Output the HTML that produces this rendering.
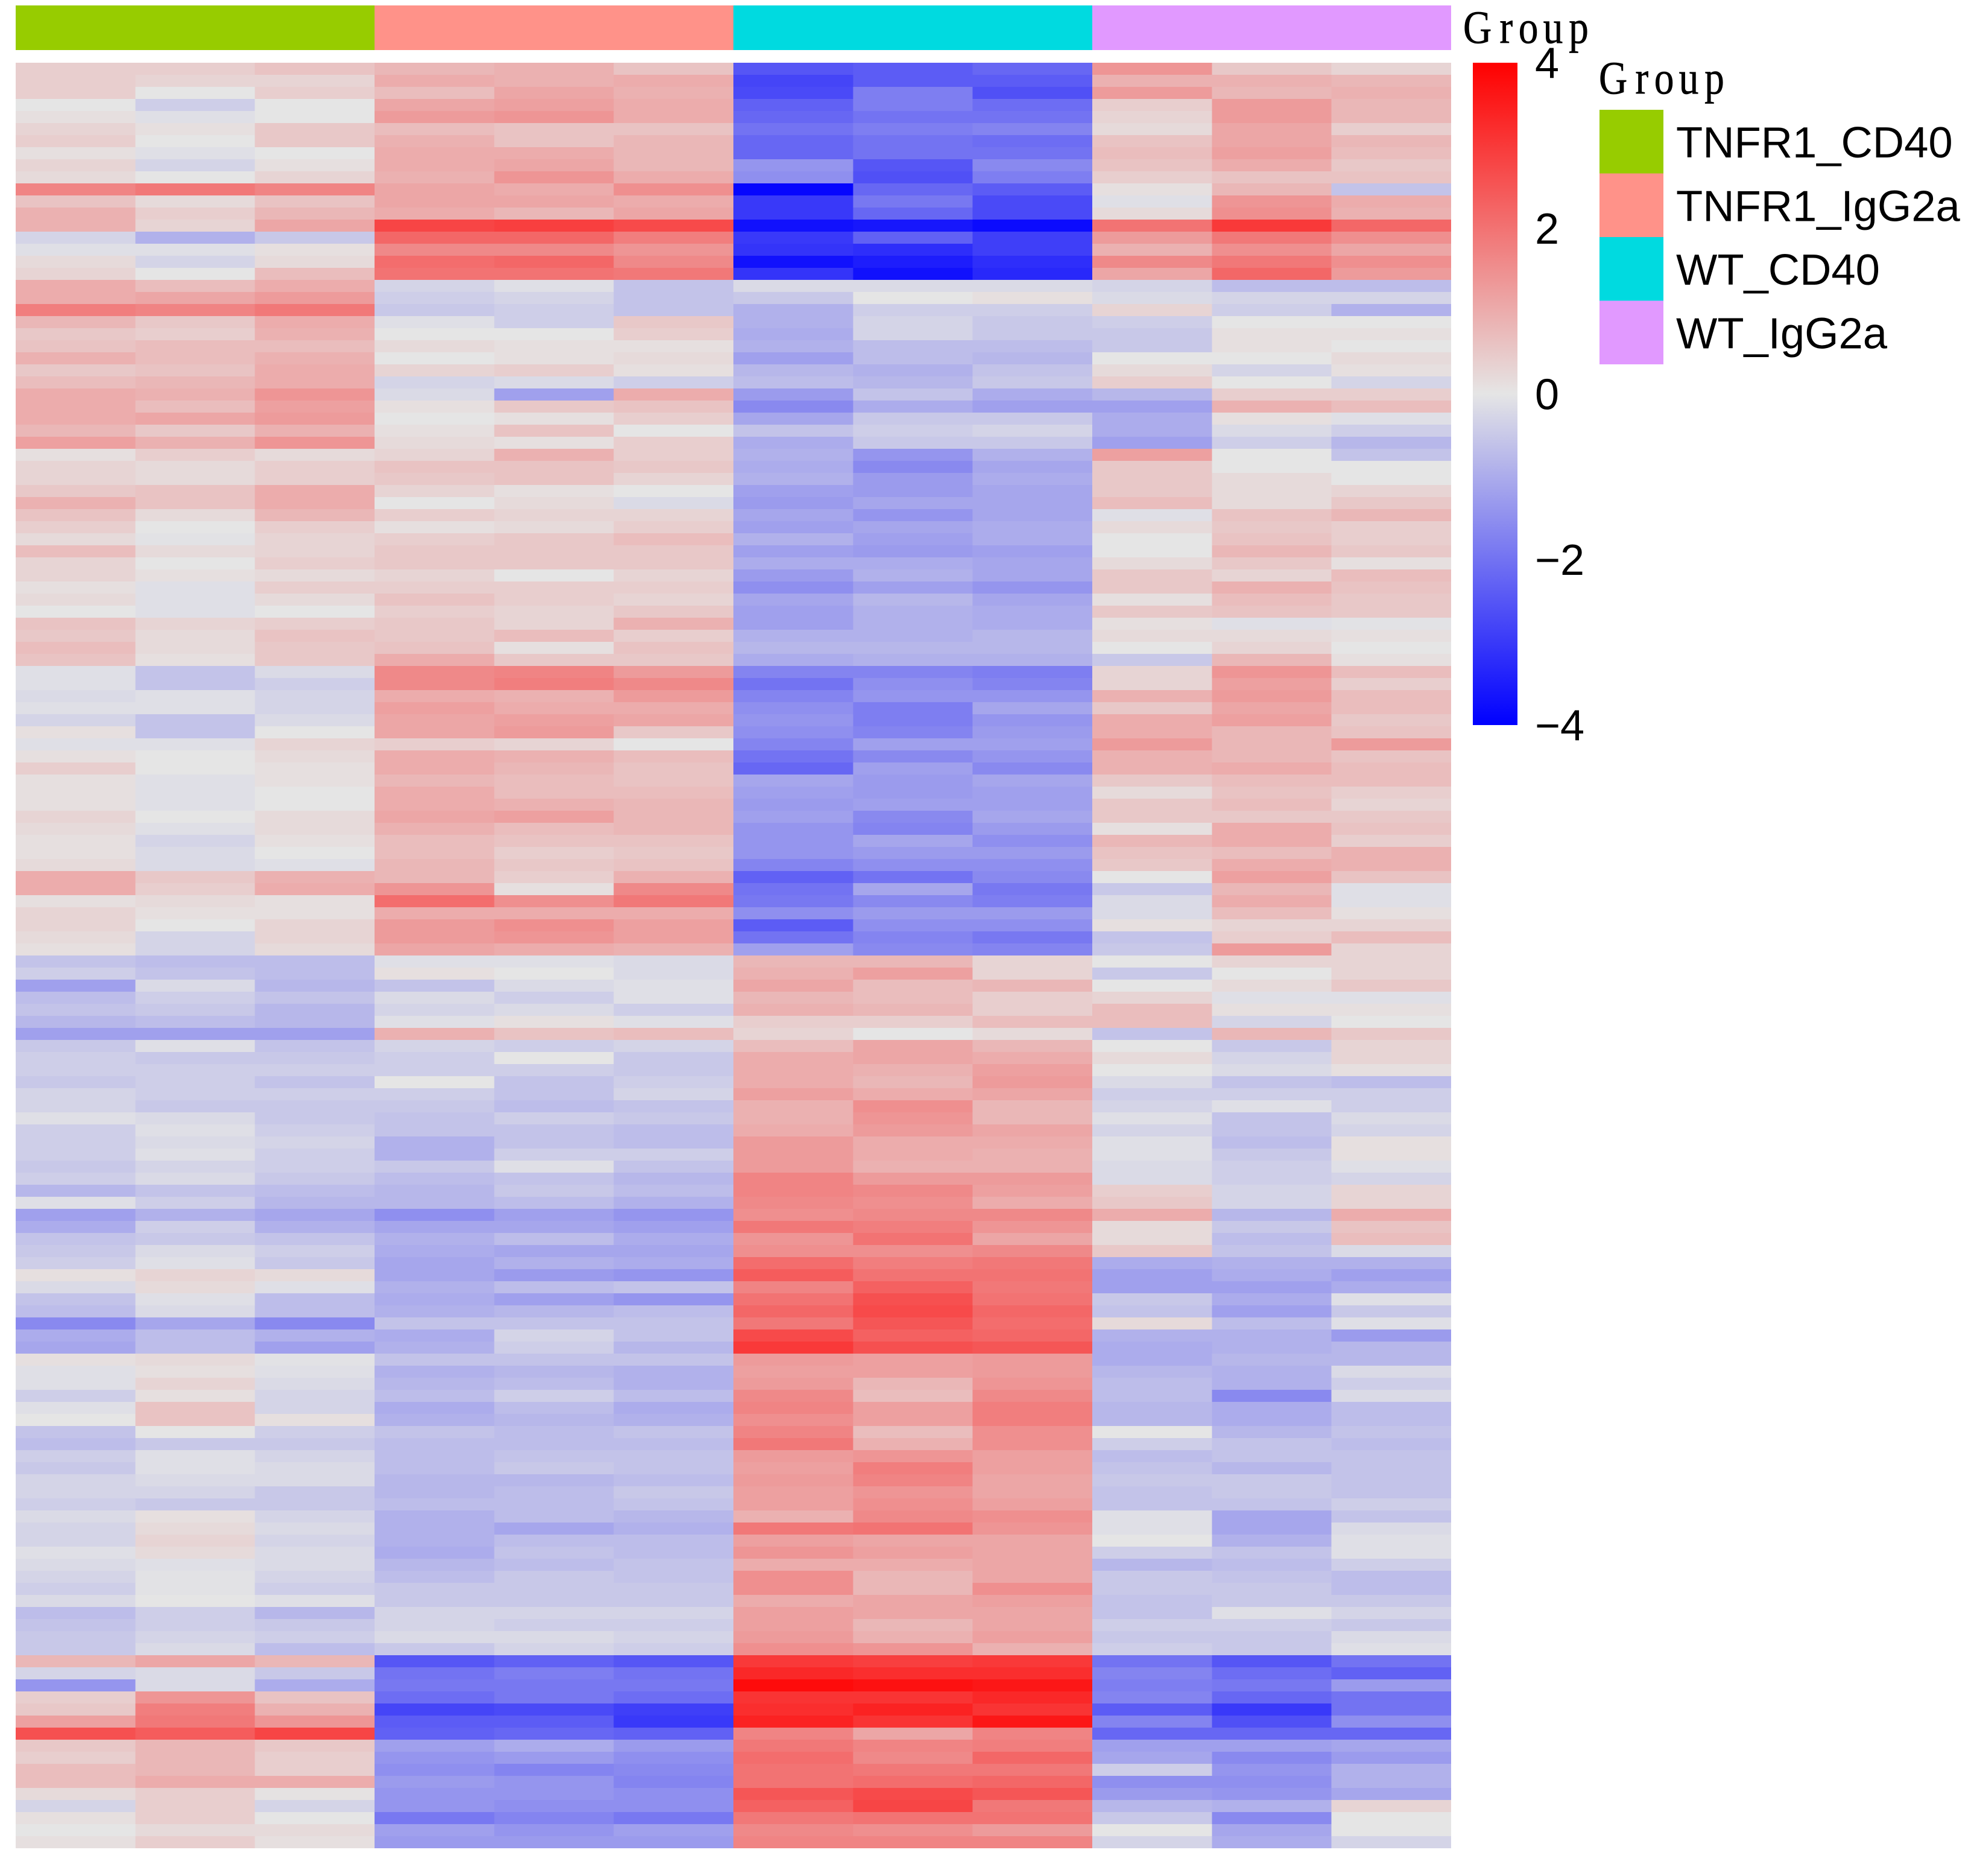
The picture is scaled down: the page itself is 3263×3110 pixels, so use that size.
<!DOCTYPE html>
<html lang="en">
<head>
<meta charset="utf-8">
<title>Group heatmap</title>
<style>
html,body{margin:0;padding:0;background:#fff;}
svg{display:block;}
text{font-family:"Liberation Sans",Arial,sans-serif;fill:#000;}
.serif{font-family:"Liberation Serif","Noto Serif CJK SC",serif;stroke:#000;stroke-width:.7;}
</style>
</head>
<body>
<svg id="chart" xmlns="http://www.w3.org/2000/svg" width="3263" height="3110" viewBox="0 0 3263 3110">
<defs>
<linearGradient id="cbGrad" x1="0" y1="0" x2="0" y2="1">
<stop offset="0" stop-color="#ff0000"/><stop offset="0.5" stop-color="#e5e5e5"/><stop offset="1" stop-color="#0000ff"/>
</linearGradient>
</defs>
<rect x="0" y="0" width="3263" height="3110" fill="#fff"/>
<g id="annotationBar"></g>
<g id="cells" shape-rendering="crispEdges"></g>
<text class="serif" transform="translate(2426,71) scale(.85,1)" font-size="77" x="0 71 108 156 206" y="0">Group</text>
<rect x="2442" y="104" width="74" height="1098" fill="url(#cbGrad)"/>
<g id="cbTicks"></g>
<text class="serif" transform="translate(2651,155) scale(.85,1)" font-size="77" x="0 71 108 156 206" y="0">Group</text>
<g id="legend"></g>
</svg>
<script>
const groupNames = ["TNFR1_CD40","TNFR1_IgG2a","WT_CD40","WT_IgG2a"];
const groupColors = ["#97CC00","#FF9289","#00DAE0","#E199FF"];
const colorbarTicks = [4,2,0,-2,-4];
const heatValues = [
[.4,.4,.6,.8,.9,.6,-2.5,-2.4,-2.2,1.4,.5,.3],
[.4,.3,.3,1.0,.9,1.0,-2.8,-2.4,-2.4,.9,.9,.8],
[.4,.0,.4,.7,1.1,.9,-2.7,-1.8,-2.6,1.3,.8,.9],
[.0,-.4,.0,1.1,1.2,1.0,-2.3,-1.8,-2.1,.4,1.3,.8],
[.1,-.1,.0,1.3,1.4,1.0,-2.2,-2.0,-2.0,.3,1.3,.8],
[.3,.1,.5,.7,.6,.6,-2.0,-1.8,-1.7,.2,1.1,.4],
[.4,.0,.5,.9,.6,.8,-2.2,-2.0,-2.1,.6,1.1,.8],
[.1,-.1,.0,1.0,1.0,.8,-2.2,-2.0,-2.0,.7,1.2,.7],
[.3,-.3,.1,1.0,1.1,.8,-1.4,-2.5,-1.6,.6,1.0,.5],
[.2,.0,.3,.9,1.4,1.0,-1.5,-2.6,-1.8,.4,.6,.6],
[1.7,1.9,1.7,1.1,1.0,1.5,-3.9,-2.2,-2.4,.1,.8,-.6],
[.6,.2,.6,1.1,1.1,1.0,-3.0,-1.9,-2.7,-.1,1.4,1.0],
[.9,.4,.8,1.0,.8,1.1,-3.0,-2.2,-2.7,.2,1.5,.9],
[.9,.3,1.1,2.8,2.9,2.7,-3.7,-3.6,-3.8,2.0,3.0,2.2],
[-.3,-.9,-.5,2.2,2.2,1.8,-3.0,-2.3,-2.9,1.3,1.9,1.5],
[-.1,-.1,.1,1.6,1.6,1.4,-3.1,-3.2,-2.9,.9,1.5,1.1],
[.2,-.3,.2,2.1,2.2,1.6,-3.7,-3.5,-3.2,1.6,1.9,1.5],
[.3,.0,.7,2.0,2.0,1.9,-3.1,-3.7,-3.3,1.1,2.2,1.3],
[1.0,.7,1.0,-.3,-.1,-.6,-.2,-.2,-.2,-.3,-.7,-.7],
[1.0,1.1,1.3,-.4,-.3,-.6,-.5,.0,.1,-.2,-.3,-.3],
[1.8,1.7,1.9,-.5,-.4,-.6,-.9,-.4,-.4,.3,-.4,-.9],
[.8,.5,1.0,-.1,-.4,.5,-.9,-.3,-.5,-.4,.0,.0],
[.5,.4,.9,.0,.0,.4,-1.0,-.3,-.5,-.5,.1,.1],
[.6,.7,.7,.2,.1,.1,-.9,-.7,-.7,-.5,.1,.0],
[.9,.7,.9,.0,.1,.2,-1.2,-.7,-.8,.0,.0,.2],
[.5,.6,1.0,.3,.4,.1,-.8,-.9,-.6,.2,-.3,.1],
[.7,.8,1.0,-.3,-.2,-.4,-.7,-.8,-.5,.4,.0,-.3],
[1.0,.9,1.4,-.2,-1.2,1.0,-1.3,-.6,-1.0,-.8,.4,.4],
[1.0,.7,1.2,.1,.5,.6,-1.6,-1.0,-1.2,-1.2,.9,.7],
[1.0,1.1,1.3,.0,.1,.4,-1.1,-.5,-.5,-1.0,.1,-.1],
[.8,.5,.9,.1,.6,.0,-.6,-.4,-.3,-1.0,-.2,-.4],
[1.2,.9,1.4,.2,.1,.4,-1.0,-.5,-.5,-1.2,-.4,-.8],
[.1,.4,.2,.3,.9,.4,-.9,-1.4,-.9,1.2,.0,-.6],
[.3,.2,.4,.6,.6,.5,-1.0,-1.6,-1.1,.5,.0,.0],
[.3,.2,.4,.5,.6,.3,-.9,-1.3,-1.0,.5,.2,.0],
[.5,.6,1.0,.3,.1,.0,-1.2,-1.3,-1.1,.5,.2,.3],
[.9,.6,1.0,.0,.2,-.2,-1.3,-1.1,-1.1,.7,.2,.5],
[.6,.2,.8,.4,.3,.3,-1.1,-1.4,-1.1,-.1,.6,.8],
[.4,.0,.4,.1,.2,.4,-1.2,-1.1,-1.0,.2,.5,.4],
[.2,-.05,.3,.4,.5,.7,-.9,-1.2,-1.0,.0,.6,.4],
[.7,.2,.3,.5,.5,.5,-1.2,-1.3,-1.2,.0,.8,.5],
[.3,.0,.4,.5,.5,.5,-1.0,-1.0,-1.1,.2,.5,.1],
[.3,.1,.2,.3,.0,.3,-1.3,-.9,-1.1,.5,.3,.7],
[.1,-.1,.4,.4,.4,.4,-1.5,-1.2,-1.4,.5,.9,.6],
[.2,-.1,.2,.6,.4,.3,-1.1,-.8,-1.1,.1,.7,.5],
[.0,-.1,.0,.4,.3,.5,-1.2,-.9,-1.0,.5,.6,.5],
[.6,.3,.4,.5,.3,.9,-1.2,-.9,-1.0,.1,-.1,-.05],
[.5,.2,.6,.5,.7,.4,-.9,-.9,-.8,.2,.2,.1],
[.7,.2,.5,.6,.1,.6,-.8,-.8,-.8,.0,.3,.0],
[.6,.1,.5,1.0,.5,.5,-1.0,-.9,-.9,-.5,.8,.1],
[-.1,-.6,-.2,1.6,1.7,1.3,-1.7,-1.7,-1.8,.3,1.4,.7],
[-.1,-.6,-.4,1.6,1.8,1.6,-2.0,-1.5,-1.7,.3,1.2,.4],
[-.2,-.1,-.3,1.0,.9,1.3,-1.7,-1.4,-1.4,.9,1.3,.7],
[-.1,-.1,-.3,1.2,1.0,1.0,-1.5,-1.8,-1.1,.5,1.1,.7],
[-.3,-.6,-.2,1.1,1.2,1.1,-1.4,-1.8,-1.4,1.0,1.2,.5],
[.1,-.6,.0,1.1,1.3,.5,-1.5,-1.7,-1.3,1.0,.8,.6],
[-.1,-.1,.3,.4,.3,.0,-1.7,-1.2,-1.2,1.3,.8,1.3],
[.1,.0,.2,1.0,.9,.7,-2.0,-1.6,-1.4,.9,.8,.6],
[.4,.0,.1,1.0,.8,.6,-2.2,-1.2,-1.6,.9,1.0,.7],
[.1,-.1,.1,.8,.7,.6,-1.1,-1.3,-1.1,.5,.7,.7],
[.1,-.1,.0,1.0,.7,.7,-1.2,-1.3,-1.2,.2,.6,.4],
[.1,-.1,.0,1.0,.9,.8,-1.3,-1.2,-1.2,.5,.7,.3],
[.3,.0,.2,1.1,1.2,.8,-1.2,-1.6,-1.1,.5,.5,.5],
[.2,-.1,.2,.9,.7,.8,-1.4,-1.7,-1.3,.1,1.0,.6],
[.1,-.3,.1,.7,.6,.6,-1.4,-1.1,-1.5,.8,1.0,.4],
[.1,-.2,.0,.7,.4,.5,-1.4,-1.3,-1.3,.6,.7,.9],
[.2,-.2,-.1,.8,.5,.6,-1.7,-1.5,-1.5,.5,1.0,.9],
[1.0,.5,.9,.8,.4,.9,-2.3,-2.0,-1.6,.0,1.2,.6],
[1.0,.4,1.0,1.4,.1,1.6,-2.0,-1.1,-1.9,-.5,.8,-.1],
[.1,.2,.1,2.1,1.5,1.9,-1.9,-1.6,-1.8,-.2,1.0,-.1],
[.3,.1,.1,1.0,1.0,1.0,-1.5,-1.3,-1.3,-.2,.7,.1],
[.3,.0,.3,1.3,1.5,1.2,-2.4,-1.5,-1.5,.1,.3,.3],
[.2,-.3,.3,1.3,1.4,1.2,-2.0,-1.7,-1.9,-.6,.4,.7],
[.1,-.3,.2,1.1,1.0,.9,-1.2,-1.6,-1.7,-.5,1.3,.3],
[-.6,-.7,-.7,-.1,-.1,-.2,.8,.8,.3,.0,.3,.3],
[-.4,-.6,-.7,.1,.0,-.2,.9,1.2,.3,-.5,.0,.3],
[-1.2,-.2,-.8,-.6,-.2,-.1,1.1,.7,.8,.0,.2,.5],
[-.7,-.4,-.6,-.2,-.4,-.1,.8,.7,.4,.3,-.1,-.1],
[-.6,-.5,-.8,-.3,-.2,-.4,.9,.8,.4,.7,.1,.1],
[-.8,-.7,-.8,-.1,.1,-.1,.4,.4,.7,.7,-.3,.0],
[-1.2,-1.2,-1.2,.9,.6,.7,.3,.0,.2,-.6,.8,.5],
[-.5,-.1,-.6,-.3,-.4,-.3,.7,1.1,.8,.0,-.5,.3],
[-.4,-.5,-.5,-.4,.0,-.5,1.0,1.1,1.0,.2,-.3,.3],
[-.4,-.4,-.4,-.4,-.4,-.5,1.0,.9,1.2,.0,-.2,.1],
[-.5,-.4,-.6,.0,-.6,-.4,1.0,.8,1.3,-.2,-.6,-.7],
[-.3,-.4,-.4,-.4,-.6,-.3,1.2,1.0,1.1,-.4,-.4,-.4],
[-.3,-.5,-.5,-.5,-.7,-.6,.9,1.5,.8,-.3,-.1,-.4],
[-.1,-.2,-.5,-.6,-.4,-.5,.9,1.4,.8,-.1,-.6,-.2],
[-.4,-.1,-.4,-.6,-.6,-.7,1.0,1.3,1.1,-.3,-.6,-.3],
[-.4,-.2,-.3,-.9,-.6,-.7,1.3,1.0,1.0,-.1,-.7,.1],
[-.4,-.1,-.4,-.9,-.4,-.4,1.3,1.0,.9,-.1,-.5,.1],
[-.5,-.3,-.4,-.5,-.1,-.6,1.3,.9,.9,-.2,-.4,-.1],
[-.4,-.2,-.5,-.7,-.6,-.8,1.7,1.3,1.3,-.2,-.4,-.3],
[-.8,-.6,-.7,-.8,-.5,-.7,1.7,1.6,1.2,.4,-.3,.3],
[-.1,-.4,-.8,-.8,-.7,-.9,1.6,1.5,1.0,.5,-.3,.3],
[-1.2,-.9,-1.1,-1.5,-1.2,-1.4,1.5,1.6,1.6,1.0,-.8,1.0],
[-1.0,-.4,-.9,-1.1,-1.1,-1.2,1.9,1.8,1.4,.2,-.5,.6],
[-.6,-.5,-.6,-.9,-.7,-1.0,1.4,2.0,1.1,.2,-.7,.7],
[-.5,-.2,-.4,-1.0,-1.1,-1.1,1.5,1.5,1.6,.5,-.6,-.2],
[-.4,-.1,-.5,-1.1,-.9,-1.0,2.1,1.8,1.9,-1.0,-.9,-.9],
[.1,.3,.2,-1.1,-1.3,-1.4,2.4,2.0,2.0,-1.2,-1.0,-1.2],
[-.2,.2,-.1,-.9,-.7,-.6,1.7,2.3,1.9,-1.2,-1.2,-1.0],
[-.6,-.1,-.7,-1.0,-1.2,-1.4,2.0,2.6,2.0,-.5,-1.0,-.1],
[-.7,-.2,-.7,-.9,-.8,-.7,2.2,2.7,2.2,-.6,-1.2,-.5],
[-1.6,-1.1,-1.6,-.6,-.6,-.6,1.9,2.5,2.1,.2,-.7,-.1],
[-1.0,-.7,-.9,-1.0,-.3,-.6,2.7,2.3,2.2,-.9,-.9,-1.3],
[-1.1,-.7,-1.2,-.9,-.4,-.8,3.0,2.6,2.5,-1.0,-.9,-.8],
[.1,.2,-.05,-.6,-.6,-.6,1.3,1.2,1.3,-1.0,-.8,-.8],
[-.1,.1,-.1,-.9,-.8,-.9,1.2,1.2,1.3,-.8,-.9,-.2],
[-.1,.3,-.2,-.8,-.7,-.9,1.3,.8,1.4,-.7,-.9,-.4],
[-.4,.1,-.3,-.7,-.4,-.7,1.6,.7,1.6,-.7,-1.6,-.2],
[-.1,.6,-.3,-1.0,-.7,-1.0,1.7,1.2,1.8,-.8,-1.0,-.7],
[.0,.6,.1,-.9,-.8,-.9,1.5,1.2,1.8,-.8,-1.0,-.7],
[-.6,.0,-.4,-.6,-.7,-.6,1.7,.7,1.5,.0,-.8,-.6],
[-.7,-.5,-.5,-.7,-.7,-.7,1.9,.9,1.5,-.4,-.6,-.7],
[-.4,-.1,-.3,-.7,-.6,-.6,1.3,1.4,1.2,-.7,-.6,-.6],
[-.5,-.1,-.2,-.7,-.5,-.6,1.2,1.8,1.2,-.6,-.8,-.6],
[-.3,-.2,-.2,-.8,-.8,-.7,1.3,1.7,1.1,-.5,-.5,-.6],
[-.3,-.3,-.5,-.8,-.7,-.5,1.2,1.4,1.1,-.6,-.5,-.6],
[-.4,-.5,-.5,-.7,-.7,-.6,1.2,1.5,1.2,-.6,-.6,-.4],
[-.2,.1,-.3,-.9,-.7,-.8,.9,1.6,1.5,-.1,-1.1,-.6],
[-.3,.2,-.2,-.9,-1.1,-.9,1.9,2.0,1.4,-.1,-1.1,-.2],
[-.3,.3,-.3,-.9,-.7,-.7,1.2,1.1,1.1,.0,-.9,-.1],
[-.1,.2,-.2,-1.0,-.6,-.7,1.4,1.2,1.1,-.4,-.6,-.1],
[-.2,-.1,-.2,-.8,-.7,-.6,1.0,1.0,1.1,-.8,-.7,-.4],
[-.3,-.05,-.3,-.7,-.5,-.6,1.5,.8,1.1,-.5,-.6,-.7],
[-.4,-.05,-.4,-.5,-.5,-.5,1.5,.8,1.5,-.5,-.5,-.7],
[-.2,.0,-.1,-.5,-.5,-.5,1.0,1.1,1.2,-.6,-.5,-.5],
[-.7,-.4,-.8,-.3,-.3,-.3,1.2,1.1,1.1,-.6,-.1,-.3],
[-.6,-.4,-.5,-.3,-.4,-.4,1.2,.8,1.1,-.4,-.4,-.5],
[-.5,-.3,-.4,-.2,-.2,-.3,1.3,.9,1.2,-.5,-.5,-.2],
[-.5,-.2,-.7,-.5,-.3,-.4,1.5,1.4,.9,-.4,-.5,-.1],
[.8,1.1,.8,-2.5,-2.3,-2.5,3.0,2.9,3.0,-2.0,-2.5,-2.0],
[-.3,-.2,-.5,-2.0,-1.8,-2.0,3.3,3.2,3.2,-1.7,-2.1,-2.3],
[-1.4,-.2,-1.0,-1.9,-1.9,-1.9,3.8,3.7,3.6,-1.8,-1.9,-1.3],
[.4,1.4,.6,-2.1,-1.9,-2.1,3.1,3.1,3.3,-1.7,-2.2,-2.0],
[.5,1.8,.9,-2.8,-2.7,-2.9,3.2,3.4,3.1,-2.4,-3.0,-2.0],
[1.2,1.9,1.4,-2.4,-2.4,-3.0,3.4,3.1,3.6,-1.7,-2.6,-1.5],
[2.6,2.4,2.8,-2.3,-2.2,-2.3,1.7,1.1,1.7,-2.2,-2.2,-2.2],
[.5,.8,.5,-1.2,-1.0,-1.3,1.9,1.7,1.8,-1.2,-1.2,-1.1],
[.4,.8,.4,-1.4,-1.3,-1.5,2.1,1.6,2.2,-1.1,-1.6,-1.3],
[.7,.8,.4,-1.5,-1.7,-1.6,2.0,1.9,1.9,-.4,-1.4,-.9],
[.7,1.0,1.0,-1.3,-1.4,-1.7,2.0,2.1,2.2,-1.5,-1.5,-.9],
[.2,.4,.05,-1.4,-1.4,-1.5,2.5,2.7,2.5,-1.3,-1.4,-1.1],
[-.3,.4,-.3,-1.4,-1.5,-1.5,2.3,2.8,1.9,-.8,-.9,.3],
[.1,.4,.0,-1.9,-1.7,-1.9,1.9,2.0,2.0,-.5,-1.6,.0],
[.0,.2,.2,-1.2,-1.4,-1.2,1.6,1.5,1.3,.0,-1.1,.0],
[.1,.4,.1,-1.3,-1.3,-1.3,1.7,1.7,1.7,-.3,-1.0,-.3]
];

const SVGNS = "http://www.w3.org/2000/svg";
const plot = {left:26, right:2406, top:104, bottom:3064};
const cbar = {top:104, bottom:1202, max:4, min:-4};
const nRows = heatValues.length;
const nCols = heatValues[0].length;
function xScale(c){ return plot.left + (plot.right-plot.left)*c/nCols; }
function yScale(r){ return plot.top + (plot.bottom-plot.top)*r/nRows; }
function cbScale(v){ return cbar.top + (cbar.bottom-cbar.top)*(cbar.max-v)/(cbar.max-cbar.min); }
function colorScale(v){
  const t = Math.min(1, Math.abs(v)/4);
  const mid = 229;
  const a = Math.round(mid + (255-mid)*t), b = Math.round(mid*(1-t));
  if (v >= 0) {
    return "rgb("+a+","+b+","+b+")";
  }
  return "rgb("+b+","+b+","+a+")";
}
function make(tag, parent, attrs){
  const el = document.createElementNS(SVGNS, tag);
  for (const k in attrs) el.setAttribute(k, attrs[k]);
  parent.appendChild(el);
  return el;
}

const annG = document.getElementById("annotationBar");
groupNames.forEach(function(name, g){
  const x0 = xScale(g*3), x1 = xScale((g+1)*3);
  const el = make("rect", annG, {x:x0, y:9, width:x1-x0, height:74, fill:groupColors[g]});
  
  
});

const cellsG = document.getElementById("cells");
heatValues.forEach(function(row, r){
  row.forEach(function(v, c){
    const x0 = xScale(c), x1 = xScale(c+1), y0 = yScale(r), y1 = yScale(r+1);
    const el = make("rect", cellsG, {x:x0, y:y0, width:x1-x0, height:y1-y0, fill:colorScale(v)});
    
    
  });
});

const tickG = document.getElementById("cbTicks");
colorbarTicks.forEach(function(t){
  const el = make("text", tickG, {x:2545, y:cbScale(t)+25.5, "font-size":72});
  el.textContent = (t < 0 ? "\u2212" + Math.abs(t) : String(t));
  
  
});

const legG = document.getElementById("legend");
const legendTop = 182, legendStep = 105.5;
groupNames.forEach(function(name, g){
  const y = legendTop + legendStep*g;
  const sw = make("rect", legG, {x:2652, y:y, width:106, height:legendStep, fill:groupColors[g]});
  
  
  const label = make("text", legG, {x:2779, y:y+legendStep/2+26, "font-size":72.4});
  label.textContent = name;
  
  
});
</script>
</body>
</html>
